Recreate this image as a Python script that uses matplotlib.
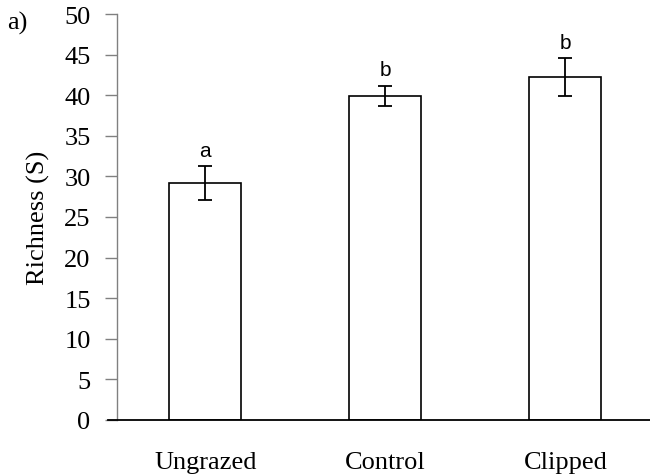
import matplotlib.pyplot as plt
from matplotlib.lines import Line2D

# Mean species richness per treatment, with error bar half-widths
treatments = ['Ungrazed', 'Control', 'Clipped']
richness = [29.2, 39.95, 42.2]
richness_err = [2.05, 1.23, 2.35]
group_letters = ['a', 'b', 'b']

fig = plt.figure(figsize=(6.5, 4.77), dpi=100)
ax = fig.add_axes([117 / 650, 56 / 477, 533 / 650, 406 / 477])

x = range(len(treatments))
ax.bar(x, richness, width=0.4, color='white', edgecolor='black', linewidth=1.2, zorder=2)
ax.errorbar(x, richness, yerr=richness_err, fmt='none', ecolor='black',
            elinewidth=1.3, capsize=4.7, capthick=1.3, zorder=3)

# significance letters above each error bar
for i, letter in enumerate(group_letters):
    ax.annotate(letter, (i, richness[i] + richness_err[i]), xytext=(0, 7.5),
                textcoords='offset points', ha='center', va='baseline',
                fontsize=15, family='Liberation Sans')

ax.set_xlim(-0.49, 2.47)
ax.set_ylim(0, 50)
ax.set_yticks(range(0, 51, 5))
ax.set_xticks(list(x))
ax.set_xticklabels(treatments)

for side in ['top', 'right', 'bottom']:
    ax.spines[side].set_visible(False)
ax.spines['left'].set_color('#808080')
ax.spines['left'].set_linewidth(1.0)

ax.tick_params(axis='y', direction='out', length=9, width=1.0, color='#808080',
               pad=10, labelsize=19)
ax.tick_params(axis='x', length=0, pad=22, labelsize=19)
for lab in ax.get_xticklabels() + ax.get_yticklabels():
    lab.set_family('Liberation Serif')

# x axis line runs a little past the y axis on the left
ax.add_line(Line2D([-0.017, 1.0], [0, 0], transform=ax.transAxes, color='black',
                   linewidth=1.3, clip_on=False, zorder=4))

ax.set_ylabel('Richness (S)', family='Liberation Serif', fontsize=19, labelpad=10)

fig.text(7 / 650, 1 - 30 / 477, 'a)', family='Liberation Serif', fontsize=19)

fig.savefig('out.png', dpi=100)
